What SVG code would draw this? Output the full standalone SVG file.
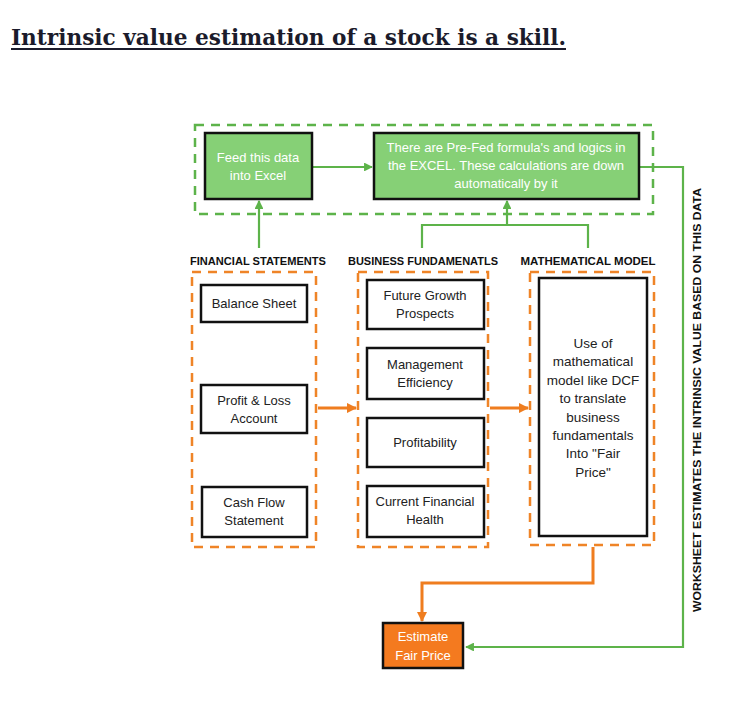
<svg xmlns="http://www.w3.org/2000/svg" width="756" height="705" viewBox="0 0 756 705">
<defs>
<style>
.t{font-family:"Liberation Sans",Arial,sans-serif;font-size:13px;fill:#222;text-anchor:middle}
.m{font-size:13.5px}
.w{fill:#fff}
.h{font-family:"Liberation Sans",Arial,sans-serif;font-size:10.5px;font-weight:bold;fill:#111;text-anchor:middle}
.box{fill:#fff;stroke:#111;stroke-width:2.5}
.gbox{fill:#86d076;stroke:#111;stroke-width:2.5}
.gdash{fill:none;stroke:#5db34a;stroke-width:2.5;stroke-dasharray:9,7}
.odash{fill:none;stroke:#ef8427;stroke-width:2.5;stroke-dasharray:9,7}
.gl{fill:none;stroke:#5db34a;stroke-width:2.2}
.ol{fill:none;stroke:#ef7d1f;stroke-width:3}
</style>
<marker id="ga" viewBox="0 0 10 10" refX="9" refY="5" markerWidth="4" markerHeight="4" orient="auto"><path d="M0,0L10,5L0,10z" fill="#5db34a"/></marker>
<marker id="oa" viewBox="0 0 10 10" refX="9" refY="5" markerWidth="3.5" markerHeight="3.5" orient="auto"><path d="M0,0L10,5L0,10z" fill="#ef7d1f"/></marker>
</defs>
<rect width="756" height="705" fill="#fff"/>
<text x="11" y="45" font-family="Georgia,'DejaVu Serif','Liberation Serif',serif" font-size="23" font-weight="bold" fill="#1b1b2b" textLength="555" lengthAdjust="spacingAndGlyphs">Intrinsic value estimation of a stock is a skill.</text>
<rect x="11" y="48" width="555" height="2" fill="#1b1b2b"/>

<g id="groups">
<rect class="gdash" x="195" y="125" width="458" height="89"/>
<rect class="odash" x="192" y="272" width="124" height="275"/>
<rect class="odash" x="358" y="272" width="130" height="275"/>
<rect class="odash" x="530" y="272" width="124" height="273"/>
<text class="h" x="258" y="265" textLength="136" lengthAdjust="spacingAndGlyphs">FINANCIAL STATEMENTS</text>
<text class="h" x="423" y="265" textLength="150" lengthAdjust="spacingAndGlyphs">BUSINESS FUNDAMENATLS</text>
<text class="h" x="588" y="265" textLength="135" lengthAdjust="spacingAndGlyphs">MATHEMATICAL MODEL</text>
</g>

<g id="connectors">
<line class="gl" x1="312" y1="167" x2="372" y2="167" marker-end="url(#ga)"/>
<line class="gl" x1="259" y1="248" x2="259" y2="201" marker-end="url(#ga)"/>
<polyline class="gl" points="422,248 422,225 588,225 588,248"/>
<line class="gl" x1="507" y1="225" x2="507" y2="201" marker-end="url(#ga)"/>
<polyline class="gl" points="639,167 683,167 683,647 466,647" marker-end="url(#ga)"/>
<line class="ol" x1="318" y1="408" x2="356" y2="408" marker-end="url(#oa)"/>
<line class="ol" x1="490" y1="408" x2="528" y2="408" marker-end="url(#oa)"/>
<polyline class="ol" points="593,547 593,583 422,583 422,621" marker-end="url(#oa)"/>
</g>

<g id="feed"><rect class="gbox" x="205" y="133" width="107" height="66"/>
<text class="t w" x="258" y="162">Feed this data</text><text class="t w" x="258" y="180">into Excel</text></g>
<g id="prefed"><rect class="gbox" x="374" y="133" width="265" height="66"/>
<text class="t w" x="506" y="152">There are Pre-Fed formula's and logics in</text>
<text class="t w" x="506" y="170">the EXCEL. These calculations are down</text>
<text class="t w" x="506" y="188">automatically by it</text></g>

<g id="balance"><rect class="box" x="201" y="285" width="106" height="37"/><text class="t" x="254" y="308">Balance Sheet</text></g>
<g id="pl"><rect class="box" x="201" y="385" width="106" height="48"/><text class="t" x="254" y="405">Profit &amp; Loss</text><text class="t" x="254" y="423">Account</text></g>
<g id="cashflow"><rect class="box" x="202" y="487" width="105" height="50"/><text class="t" x="254" y="507">Cash Flow</text><text class="t" x="254" y="525">Statement</text></g>

<g id="growth"><rect class="box" x="367" y="280" width="117" height="49"/><text class="t" x="425" y="300">Future Growth</text><text class="t" x="425" y="318">Prospects</text></g>
<g id="mgmt"><rect class="box" x="367" y="348" width="117" height="51"/><text class="t" x="425" y="369">Management</text><text class="t" x="425" y="387">Efficiency</text></g>
<g id="profit"><rect class="box" x="367" y="418" width="117" height="49"/><text class="t" x="425" y="447">Profitability</text></g>
<g id="health"><rect class="box" x="367" y="486" width="117" height="51"/><text class="t" x="425" y="506">Current Financial</text><text class="t" x="425" y="524">Health</text></g>

<g id="model"><rect class="box" x="539" y="278" width="108" height="258"/>
<text class="t m" x="593" y="348">Use of</text>
<text class="t m" x="593" y="366">mathematical</text>
<text class="t m" x="593" y="385">model like DCF</text>
<text class="t m" x="593" y="403">to translate</text>
<text class="t m" x="593" y="422">business</text>
<text class="t m" x="593" y="440">fundamentals</text>
<text class="t m" x="593" y="458">Into "Fair</text>
<text class="t m" x="593" y="477">Price"</text></g>

<g id="estimate"><rect x="383" y="623" width="80" height="45" fill="#f47a1f" stroke="#111" stroke-width="2.5"/>
<text class="t w" x="423" y="641">Estimate</text><text class="t w" x="423" y="660">Fair Price</text></g>

<text class="h" transform="translate(701,400) rotate(-90)" font-size="11" textLength="424" lengthAdjust="spacingAndGlyphs">WORKSHEET ESTIMATES THE INTRINSIC VALUE BASED ON THIS DATA</text>
</svg>
